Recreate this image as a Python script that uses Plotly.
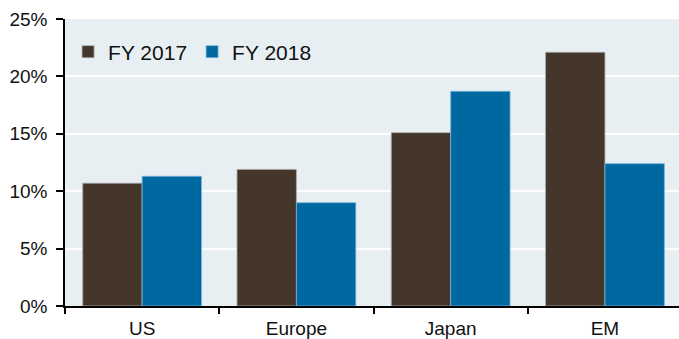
import plotly.graph_objects as go

# regions and growth figures (%)
regions = ["US", "Europe", "Japan", "EM"]
fy2017 = [10.7, 11.9, 15.1, 22.1]
fy2018 = [11.3, 9.0, 18.7, 12.4]

brown = "#45362C"
blue = "#0068A1"

fig = go.Figure()
fig.add_trace(go.Bar(
    x=regions, y=fy2017, name="FY 2017",
    marker=dict(color=brown, line=dict(color="rgba(170,170,170,0.8)", width=1)),
))
fig.add_trace(go.Bar(
    x=regions, y=fy2018, name="FY 2018",
    marker=dict(color=blue, line=dict(color="rgba(120,180,220,0.8)", width=1)),
))

fig.update_layout(
    width=679, height=339,
    margin=dict(l=65, r=0, t=19, b=33),
    paper_bgcolor="white",
    plot_bgcolor="#E8EFF3",
    font=dict(family="Liberation Sans, Arial, sans-serif", size=19, color="#111111"),
    barmode="group",
    bargap=0.23,
    bargroupgap=0,
    showlegend=True,
    legend=dict(
        orientation="h",
        x=0.005, y=0.885, xanchor="left", yanchor="middle",
        bgcolor="rgba(0,0,0,0)",
        font=dict(size=21),
        itemwidth=30,
        traceorder="normal",
    ),
)

fig.update_yaxes(
    range=[0, 25], dtick=5, ticksuffix="%",
    showgrid=True, gridcolor="white", gridwidth=1.5,
    showline=True, linecolor="black", linewidth=1.5,
    ticks="outside", ticklen=7, tickcolor="black", tickwidth=1.5,
    ticklabelstandoff=5,
    zeroline=False,
)
fig.update_xaxes(
    type="category", range=[-0.5, 3.48],
    showline=True, linecolor="black", linewidth=1.5,
    ticks="outside", tickson="boundaries", ticklen=6, tickcolor="black", tickwidth=1.5,
    ticklabelstandoff=4,
    showgrid=False,
)

# page body has a default 8px margin, drop it so the chart sits at the corner
fig.write_html("out.html", config={"displayModeBar": False},
               post_script="document.body.style.margin='0';")
